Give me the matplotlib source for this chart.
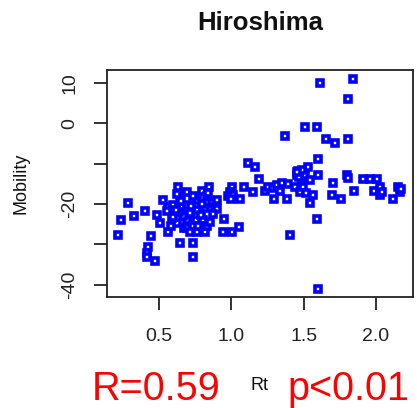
import matplotlib
matplotlib.use("Agg")
import matplotlib.pyplot as plt

plt.rcParams['font.family'] = ['Liberation Sans', 'DejaVu Sans']

title = "Hiroshima"
x_label = "Rt"
y_label = "Mobility"
x_ticks = [0.5, 1.0, 1.5, 2.0]
x_tick_labels = ["0.5", "1.0", "1.5", "2.0"]
y_ticks = [-40, -30, -20, -10, 0, 10]
y_tick_labels = ["-40", "", "-20", "", "0", "10"]
r_text = "R=0.59"
p_text = "p<0.01"

rt = [
    1.613, 1.84, 1.81, 1.51, 1.59, 1.37, 1.655, 1.717, 1.81, 1.60, 1.118, 1.164, 1.533, 1.463, 1.19, 1.60,
    1.80, 1.81, 1.91, 1.96, 2.01, 1.705, 1.694, 1.759, 1.85, 1.99, 2.03, 2.03, 2.04, 2.12, 2.155, 2.167, 2.175,
    1.567, 1.544, 1.59, 1.406, 1.60,
    1.383, 1.297, 1.233, 1.256, 1.29, 1.314, 1.349, 1.394, 1.337, 1.44, 1.452, 1.487, 1.51, 1.475, 1.544,
    1.498, 1.47, 1.49, 1.52, 1.456,
    1.007, 0.99, 0.979, 1.01, 0.996, 1.06, 1.088, 1.148, 0.952, 0.945, 1.003, 1.053,
    0.288, 0.235, 0.219, 0.329, 0.403, 0.443, 0.422, 0.415, 0.418, 0.472, 0.645, 0.733, 0.733, 0.564,
    0.633, 0.848, 0.526, 0.484, 0.507, 0.76, 0.622, 0.696, 0.755, 0.806, 0.673, 0.588,
    0.645, 0.795, 0.864, 0.887, 0.564, 0.691, 0.714, 0.657, 0.599, 0.76, 0.818, 0.714, 0.599, 0.691,
    0.553, 0.76, 0.818, 0.668, 0.772, 0.83, 0.622, 0.691, 0.737, 0.83, 0.899, 0.899, 0.87, 0.64, 0.72,
    0.79, 0.85, 0.80, 0.58, 0.62, 0.65, 0.84,
]
mobility = [
    9.9, 10.9, 6.0, -1.0, -1.0, -3.1, -3.9, -4.9, -3.9, -8.9, -9.9, -10.9, -10.9, -11.8, -13.8, -12.9,
    -12.8, -13.5, -13.8, -13.8, -13.8, -14.8, -17.7, -18.8, -16.7, -16.7, -15.7, -17.7, -16.9, -18.8, -15.7, -16.9, -16.3,
    -17.7, -19.8, -23.7, -27.6, -41.1,
    -18.7, -18.7, -16.7, -15.7, -16.1, -15.2, -14.8, -15.0, -16.7, -15.7, -12.8, -14.0, -12.8, -16.9, -14.0,
    -15.7, -13.4, -11.5, -17.3, -12.0,
    -15.7, -16.9, -18.1, -17.8, -18.8, -18.8, -15.7, -16.9, -23.7, -26.8, -26.8, -25.7,
    -19.8, -23.9, -27.6, -22.9, -21.8, -27.9, -30.7, -32.0, -33.2, -34.0, -29.7, -29.7, -33.1, -26.8,
    -15.8, -15.8, -19.0, -22.7, -24.7, -19.0, -24.7, -23.9, -23.9, -23.9, -26.0, -23.5,
    -18.0, -16.7, -19.8, -20.6, -20.6, -26.0, -22.3, -20.6, -23.1, -26.8, -26.8, -26.8, -20.2, -20.2,
    -21.8, -21.4, -21.0, -23.0, -25.5, -25.5, -17.6, -16.9, -18.1, -18.1, -19.0, -21.2, -22.5, -22.0, -20.5,
    -22.8, -24.5, -20.0, -25.5, -21.5, -19.3, -17.3,
]

W, H = 417, 408
fig = plt.figure(figsize=(W / 100, H / 100), dpi=100)
ax = fig.add_axes([107 / W, (H - 297) / H, (413 - 107) / W, (297 - 70) / H])

ax.plot(rt, mobility, linestyle='none', marker='s', markersize=5.0,
        markerfacecolor='white', markeredgecolor='#0000ff', markeredgewidth=2.6)

ax.set_xlim(0.14, 2.257)
ax.set_ylim(-43.0, 13.2)
ax.set_xticks(x_ticks)
ax.set_xticklabels(x_tick_labels)
ax.set_yticks(y_ticks)
ax.set_yticklabels(y_tick_labels, rotation=90, va='center')

for s in ax.spines.values():
    s.set_linewidth(1.3)
    s.set_color('#222222')
ax.tick_params(axis='both', direction='out', length=9.5, width=1.3, color='#222222',
               labelsize=14, labelcolor='#222222')
ax.tick_params(axis='x', pad=13)
ax.tick_params(axis='y', pad=11)

ax.set_title(title, fontsize=18.5, fontweight='bold', pad=29, color='#111111')
ax.set_xlabel(x_label, fontsize=13, color='#111111')
ax.xaxis.set_label_coords(0.5, -(386 - 297) / 227)
ax.xaxis.label.set_va('center')
ax.set_ylabel(y_label, fontsize=13, color='#111111')
ax.yaxis.set_label_coords(-(107 - 21) / 306, 0.5)
ax.yaxis.label.set_va('center')

fig.text(92 / W, (H - 400) / H, r_text, color='red', fontsize=28.5, ha='left', va='baseline')
fig.text(287 / W, (H - 400) / H, p_text, color='red', fontsize=28.5, ha='left', va='baseline')

fig.savefig("out.png", dpi=100)
